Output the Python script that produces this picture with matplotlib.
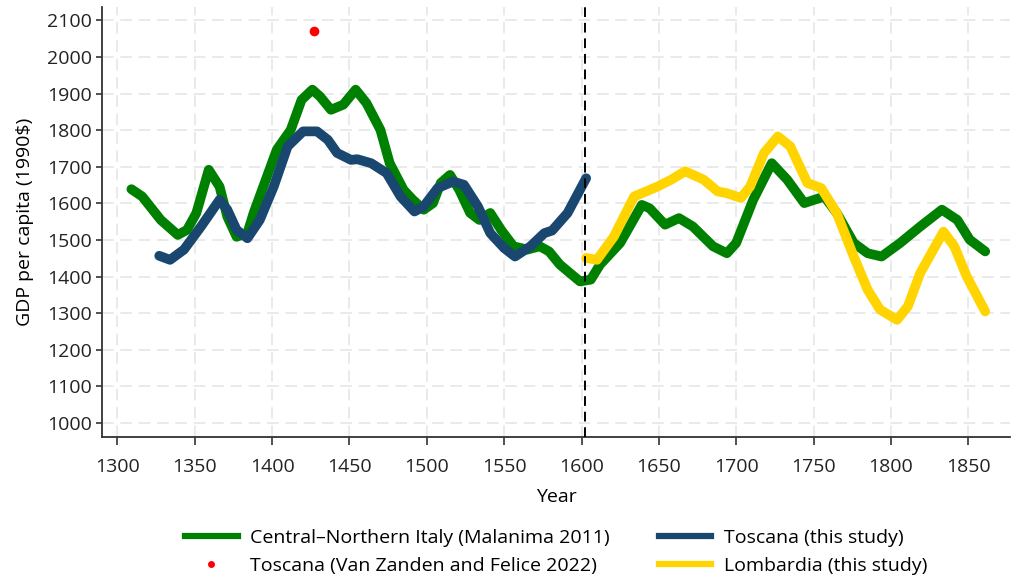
import numpy as np
import matplotlib
matplotlib.use("Agg")
import matplotlib.pyplot as plt
from matplotlib.lines import Line2D

## GDP per capita series (1990 $)
#
italy_years = [1309, 1316, 1328, 1339, 1345, 1351, 1359, 1366, 1371, 1377, 1384, 1388,
               1403, 1412, 1419, 1426, 1431, 1438, 1446, 1454, 1461, 1470, 1476, 1485,
               1491, 1498, 1504, 1509, 1515, 1521, 1528, 1534, 1541, 1548, 1556, 1565,
               1573, 1579, 1586, 1599, 1606, 1612, 1625, 1639, 1644, 1654, 1663, 1672,
               1685, 1694, 1700, 1711, 1723, 1733, 1744, 1757, 1765, 1776, 1785, 1794,
               1806, 1819, 1833, 1843, 1851, 1861]
italy_gdp = [1639, 1619, 1555, 1514, 1528, 1574, 1692, 1646, 1564, 1509, 1519, 1574,
             1747, 1801, 1883, 1911, 1892, 1856, 1870, 1911, 1874, 1801, 1710, 1637,
             1610, 1583, 1601, 1656, 1678, 1637, 1574, 1555, 1574, 1528, 1483, 1474,
             1483, 1469, 1433, 1387, 1392, 1433, 1492, 1596, 1587, 1542, 1560, 1537,
             1483, 1464, 1492, 1610, 1710, 1665, 1601, 1619, 1574, 1492, 1464, 1455,
             1492, 1537, 1583, 1555, 1501, 1469]

toscana_years = [1327, 1334, 1343, 1354, 1366, 1371, 1377, 1384, 1392, 1401, 1410, 1420,
                 1429, 1436, 1442, 1451, 1455, 1464, 1474, 1483, 1492, 1498, 1507, 1517,
                 1524, 1533, 1541, 1550, 1557, 1567, 1576, 1581, 1591, 1603]
toscana_gdp = [1457, 1446, 1474, 1537, 1610, 1583, 1528, 1505, 1555, 1646, 1756, 1797,
               1797, 1774, 1738, 1719, 1721, 1710, 1683, 1619, 1578, 1592, 1642, 1660,
               1651, 1592, 1519, 1478, 1455, 1483, 1519, 1526, 1574, 1669]

lombardia_years = [1603, 1610, 1621, 1634, 1649, 1658, 1667, 1679, 1688, 1694, 1703, 1709,
                   1718, 1727, 1735, 1746, 1755, 1765, 1776, 1785, 1793, 1804, 1811, 1819,
                   1834, 1841, 1849, 1861]
lombardia_gdp = [1451, 1446, 1510, 1619, 1646, 1665, 1688, 1665, 1633, 1628, 1615, 1646,
                 1738, 1783, 1756, 1656, 1642, 1574, 1455, 1364, 1310, 1282, 1319, 1410,
                 1523, 1483, 1401, 1305]

vz_year = [1427]
vz_gdp = [2072]

break_year = 1602

GREEN = "#008000"
NAVY = "#1a476f"
GOLD = "#ffd400"

plt.rcParams['font.family'] = ['Open Sans', 'DejaVu Sans']
FS = 14

fig = plt.figure(figsize=(10.13, 5.78), dpi=100)
ax = fig.add_axes([0.1007, 0.244, 0.8963, 0.744])

lw = 7
ax.plot(italy_years, italy_gdp, color=GREEN, lw=lw, solid_capstyle='round', solid_joinstyle='round', zorder=3)
ax.plot(toscana_years, toscana_gdp, color=NAVY, lw=lw, solid_capstyle='round', solid_joinstyle='round', zorder=4)
ax.plot(lombardia_years, lombardia_gdp, color=GOLD, lw=lw, solid_capstyle='round', solid_joinstyle='round', zorder=3)
ax.plot(vz_year, vz_gdp, 'o', color='red', ms=7, mew=0, zorder=5)

ax.axvline(break_year, color='black', lw=1.4, ls=(0, (5, 3)), zorder=5)

ax.set_xlim(1290, 1877)
ax.set_ylim(962, 2137)
ax.set_xticks(np.arange(1300, 1851, 50))
ax.set_yticks(np.arange(1000, 2101, 100))

ax.grid(True, color='#e6e6e6', lw=1.2, ls=(0, (7, 4)), zorder=0)
for side in ['top', 'right']:
    ax.spines[side].set_visible(False)
for side in ['left', 'bottom']:
    ax.spines[side].set_color('#333333')
    ax.spines[side].set_linewidth(1.3)
ax.tick_params(axis='both', colors='#333333', labelcolor='#222222', labelsize=FS, width=1.2)
ax.tick_params(axis='y', length=4.5, pad=3)
ax.tick_params(axis='x', length=6, pad=9.5)

ax.set_xlabel("Year", fontsize=FS, labelpad=8)
ax.set_ylabel("GDP per capita (1990$)", fontsize=FS, labelpad=9)

handles = [
    Line2D([], [], color=GREEN, lw=4.5),
    Line2D([], [], color='red', marker='o', ls='none', ms=5, mew=0),
    Line2D([], [], color=NAVY, lw=4.5),
    Line2D([], [], color=GOLD, lw=4.5),
]
labels = [
    "Central\u2013Northern Italy (Malanima 2011)",
    "Toscana (Van Zanden and Felice 2022)",
    "Toscana (this study)",
    "Lombardia (this study)",
]
fig.legend(handles, labels, ncol=2, loc='upper center', bbox_to_anchor=(0.549, 0.098),
           frameon=False, fontsize=FS, handlelength=2.7, handletextpad=0.65,
           columnspacing=2.5, labelspacing=0.5, borderaxespad=0)

fig.savefig("out.png", dpi=100)
